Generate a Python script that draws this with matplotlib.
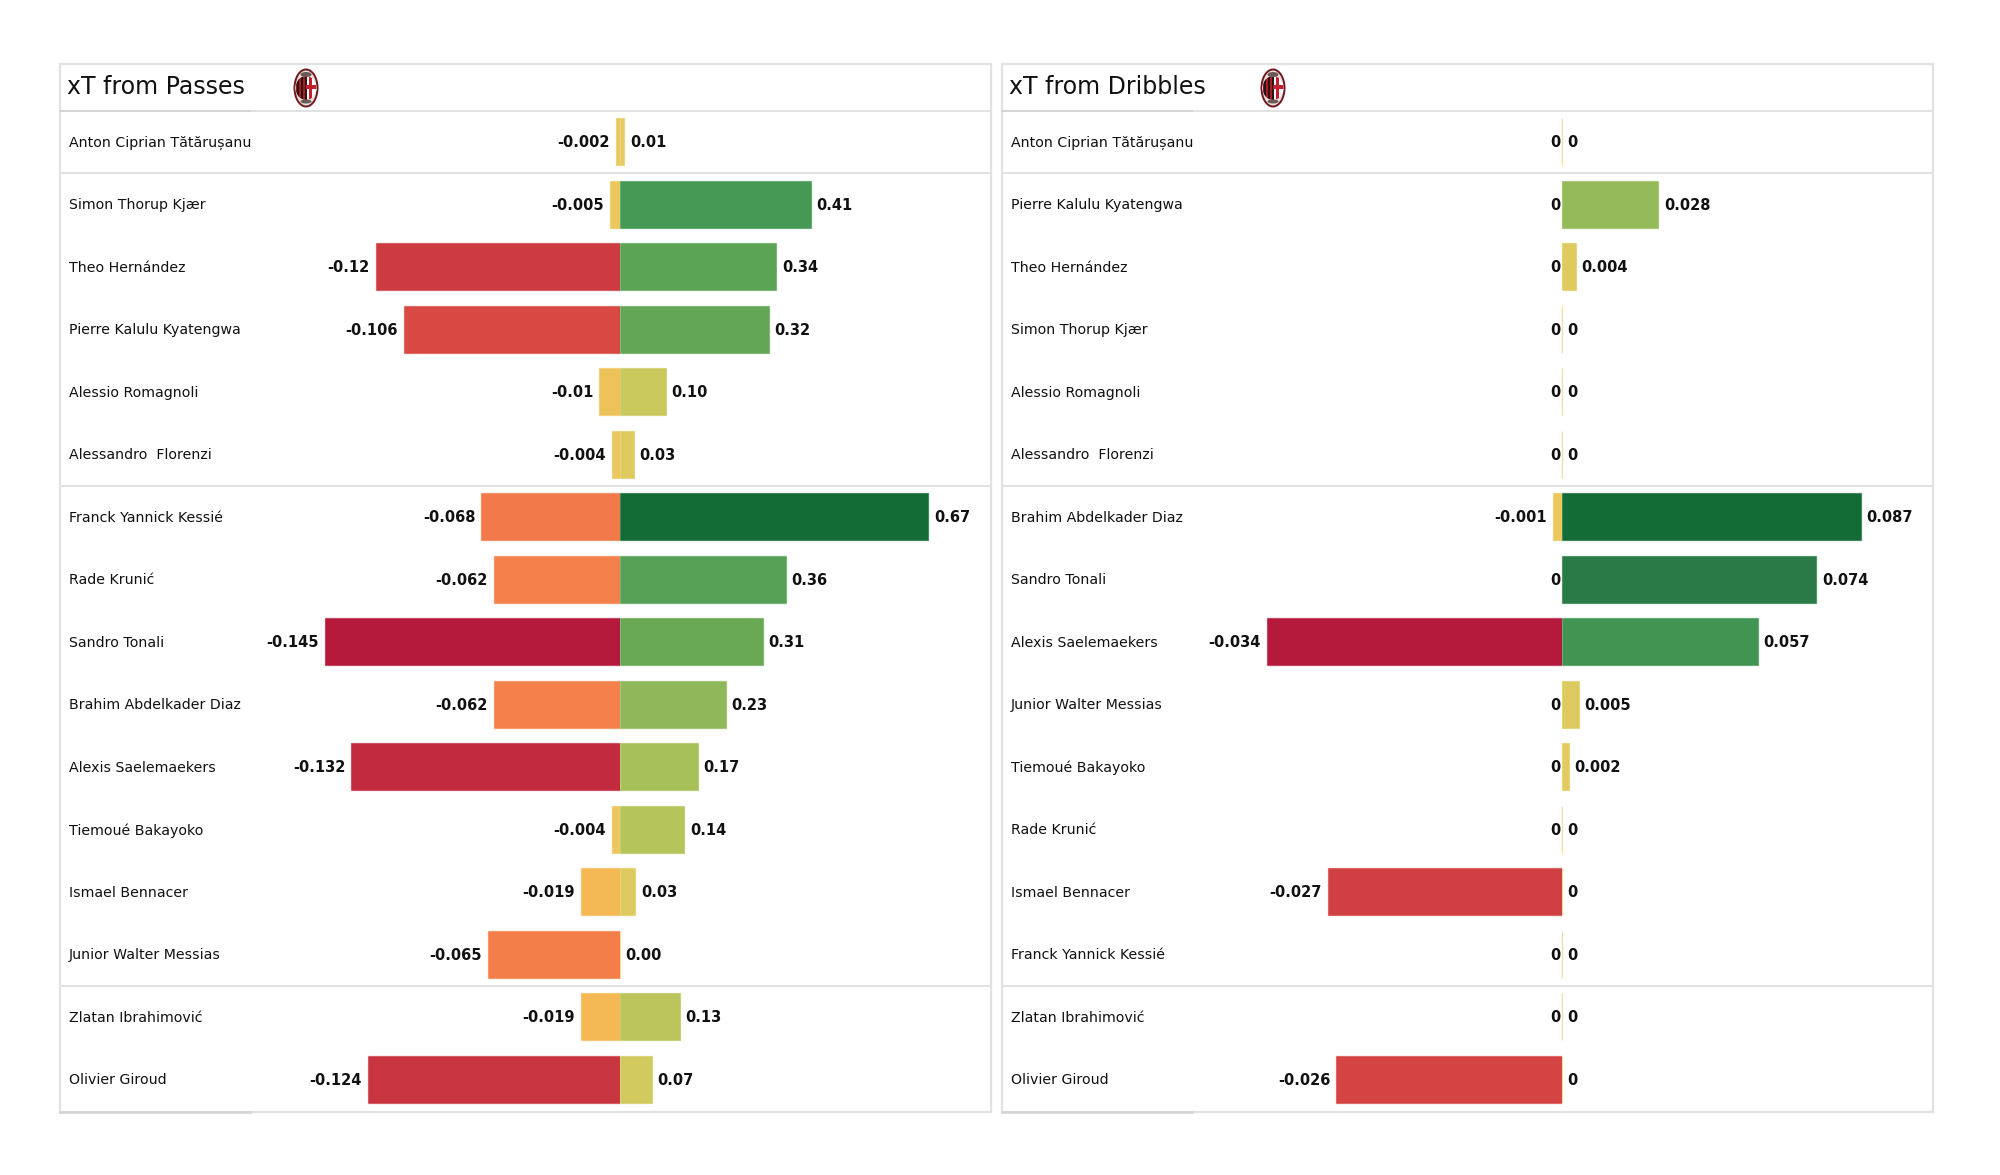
import matplotlib
matplotlib.use('Agg')
import matplotlib.pyplot as plt
from matplotlib.colors import LinearSegmentedColormap, to_rgba
from matplotlib.patches import Ellipse, Rectangle
from matplotlib.transforms import blended_transform_factory

W, H = 2000, 1175

pass_players = ['Anton Ciprian Tătărușanu', 'Simon Thorup Kjær', 'Theo Hernández', 'Pierre Kalulu Kyatengwa',
                'Alessio Romagnoli', 'Alessandro  Florenzi', 'Franck Yannick Kessié', 'Rade Krunić',
                'Sandro Tonali', 'Brahim Abdelkader Diaz', 'Alexis Saelemaekers', 'Tiemoué Bakayoko',
                'Ismael Bennacer', 'Junior Walter Messias', 'Zlatan Ibrahimović', 'Olivier Giroud']
pass_neg = [-0.002, -0.005, -0.12, -0.106, -0.01, -0.004, -0.068, -0.062,
            -0.145, -0.062, -0.132, -0.004, -0.019, -0.065, -0.019, -0.124]
pass_pos = [0.01, 0.414, 0.34, 0.324, 0.10, 0.03, 0.67, 0.36,
            0.31, 0.23, 0.17, 0.14, 0.034, 0.0, 0.13, 0.07]

drib_players = ['Anton Ciprian Tătărușanu', 'Pierre Kalulu Kyatengwa', 'Theo Hernández', 'Simon Thorup Kjær',
                'Alessio Romagnoli', 'Alessandro  Florenzi', 'Brahim Abdelkader Diaz', 'Sandro Tonali',
                'Alexis Saelemaekers', 'Junior Walter Messias', 'Tiemoué Bakayoko', 'Rade Krunić',
                'Ismael Bennacer', 'Franck Yannick Kessié', 'Zlatan Ibrahimović', 'Olivier Giroud']
drib_neg = [0, 0, 0, 0, 0, 0, -0.001, 0, -0.034, 0, 0, 0, -0.027, 0, 0, -0.026]
drib_pos = [0, 0.028, 0.004, 0, 0, 0, 0.087, 0.074, 0.057, 0.005, 0.002, 0, 0, 0, 0, 0]

# line between position groups, after these rows
group_ends = [0, 5, 13]

neg_cmap = LinearSegmentedColormap.from_list('neg', [(0, '#e8cb60'), (0.13, '#f4b955'), (0.45, '#f47d4a'),
                                                     (0.73, '#d84a44'), (0.83, '#cc3a42'), (1, '#b51a3c')])
pos_cmap = LinearSegmentedColormap.from_list('pos', [(0, '#e8cb60'), (0.15, '#c9c95e'), (0.25, '#a8c05a'),
                                                     (0.34, '#8fb85a'), (0.5, '#5da555'), (0.61, '#479a55'),
                                                     (0.85, '#2a7a47'), (1, '#136b36')])

FRAME = '#e2e2e2'
TOP, HEAD, BOTTOM = 64, 111, 1112
ROW0, ROW_H = 141.6, 62.5


def fmt_neg(v):
    return '0' if v == 0 else f'{v:.3f}'.rstrip('0')


def fmt_dribble(v):
    return '0' if v == 0 else f'{v:.3f}'.rstrip('0')


def fmt_pass(v):
    return f'{v:.2f}'


def draw_crest(bg, cx, cy):
    bg.add_patch(Ellipse((cx, cy), 25, 39, fc='#6e1a20', ec='none', zorder=3))
    bg.add_patch(Ellipse((cx, cy), 21, 35, fc='#e6e0dc', ec='none', zorder=4))
    clip = Ellipse((cx, cy), 21, 24, fc='white', ec='none', zorder=5)
    bg.add_patch(clip)
    for i, c in enumerate(['#8e1820', '#2a1416', '#a81c26', '#2a1416', '#a81c26', '#2a1416']):
        r = Rectangle((cx - 10.5 + i * 1.9, cy - 13), 1.9, 26, fc=c, ec='none', zorder=6)
        bg.add_patch(r)
        r.set_clip_path(clip)
    for xy, wh in [((cx + 3, cy - 13), (3, 26)), ((cx, cy - 3), (11, 3.5))]:
        r = Rectangle(xy, wh[0], wh[1], fc='#c2202c', ec='none', zorder=6)
        bg.add_patch(r)
        r.set_clip_path(clip)
    bg.add_patch(Ellipse((cx, cy - 13.5), 11, 5, fc='#6b5a58', ec='none', zorder=6))
    bg.add_patch(Ellipse((cx, cy + 13.5), 11, 4, fc='#6b5a58', ec='none', zorder=6))


def draw_panel(fig, bg, left, right, zero, title, players, neg, pos, pos_fmt, crest_x):
    # panel frame and header, in pixels
    bg.add_patch(Rectangle((left, TOP), right - left, BOTTOM - TOP, fc='none', ec=FRAME, lw=1.6))
    bg.plot([left, right], [HEAD, HEAD], color=FRAME, lw=1.4)
    bg.plot([left, left + 190], [HEAD, HEAD], color='#d4d4d4', lw=1.4)
    bg.plot([left, left + 190], [BOTTOM, BOTTOM], color='#d4d4d4', lw=1.8)
    bg.text(left + 7, 87, title, fontsize=17, va='center', ha='left', color='#111111')
    draw_crest(bg, crest_x, 88)

    row_top = (HEAD - ROW0) / ROW_H
    row_bottom = (BOTTOM - ROW0) / ROW_H
    y_pos = (H - BOTTOM) / H
    y_h = (BOTTOM - HEAD) / H

    neg_max = max(abs(v) for v in neg)
    pos_max = max(pos)
    neg_px, pos_px = 295, 299 if pos_max < 0.1 else 308.7

    ax_neg = fig.add_axes([left / W, y_pos, (zero - left) / W, y_h])
    ax_pos = fig.add_axes([zero / W, y_pos, (right - zero) / W, y_h])
    ax_neg.set_xlim(-neg_max * (zero - left) / neg_px, 0)
    ax_pos.set_xlim(0, pos_max * (right - zero) / pos_px)
    for ax in (ax_neg, ax_pos):
        ax.set_ylim(row_bottom, row_top)
        ax.axis('off')
        ax.patch.set_alpha(0)
        for g in group_ends:
            ax.axhline(g + 0.51, color=FRAME, lw=1.4)

    rows = range(len(players))
    neg_cols = [neg_cmap(abs(v) / neg_max) for v in neg]
    pos_cols = [pos_cmap(v / pos_max) for v in pos]
    ax_neg.barh(rows, neg, height=0.75, color=neg_cols, lw=0.9, edgecolor=[to_rgba(c, 0.6) for c in neg_cols])
    ax_pos.barh(rows, pos, height=0.75, color=pos_cols, lw=0.9, edgecolor=[to_rgba(c, 0.6) for c in pos_cols])

    name_tf = blended_transform_factory(fig.transFigure, ax_neg.transData)
    text_dy = -1
    for i, name in enumerate(players):
        ax_neg.annotate(name, ((left + 9) / W, i), xycoords=name_tf, xytext=(0, text_dy),
                        textcoords='offset points', fontsize=10.15, va='center', ha='left',
                        color='#111111', annotation_clip=False)
        ax_neg.annotate(fmt_neg(neg[i]), (neg[i], i), xytext=(-4.3 if neg[i] != 0 else -0.8, text_dy),
                        textcoords='offset points', fontsize=10.5, fontweight='bold', va='center', ha='right',
                        color='#111111', annotation_clip=False)
        ax_pos.annotate(pos_fmt(pos[i]), (pos[i], i), xytext=(4, text_dy),
                        textcoords='offset points', fontsize=10.5, fontweight='bold', va='center', ha='left',
                        color='#111111', annotation_clip=False)


fig = plt.figure(figsize=(W / 100, H / 100), dpi=100, facecolor='white')
bg = fig.add_axes([0, 0, 1, 1])
bg.set_xlim(0, W)
bg.set_ylim(H, 0)
bg.axis('off')

draw_panel(fig, bg, 60, 991, 619.8, 'xT from Passes', pass_players, pass_neg, pass_pos, fmt_pass, 306)
draw_panel(fig, bg, 1002, 1933, 1562, 'xT from Dribbles', drib_players, drib_neg, drib_pos, fmt_dribble, 1273)

fig.savefig('out.png', dpi=100)
